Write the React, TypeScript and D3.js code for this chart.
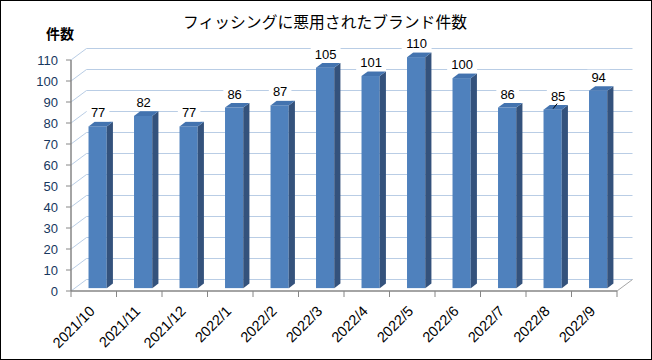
import React from 'react';
import * as d3 from 'd3';

const months = ['2021/10', '2021/11', '2021/12', '2022/1', '2022/2', '2022/3', '2022/4', '2022/5', '2022/6', '2022/7', '2022/8', '2022/9'];
const counts = [77, 82, 77, 86, 87, 105, 101, 110, 100, 86, 85, 94];
const yTicks = [0, 10, 20, 30, 40, 50, 60, 70, 80, 90, 100, 110];

const W = 652;
const H = 360;
const left = 71;
const right = 617;
const bottom = 291;
const top = 60;
// depth offsets of the back wall
const DX = 15.5;
const DY = -11.5;

const App: React.FC = () => {
    const x = d3.scaleBand<string>().domain(months).range([left, right]).paddingInner(0).paddingOuter(0);
    const y = d3.scaleLinear().domain([0, 110]).range([bottom, top]);

    const bw = x.bandwidth() * 0.4;
    const d0 = 0.25; // front of bar (fraction of depth)
    const d1 = 0.65; // back of bar

    return (
        <svg width={W} height={H} style={{ position: 'absolute', left: 0, top: 0, fontFamily: '"Liberation Sans", Arial, sans-serif' }}>
            <rect x={0.5} y={0.5} width={W - 1} height={H - 1} fill="#fff" stroke="#000" />
            <text x={325} y={28} textAnchor="middle" fontSize={15.8} fontFamily='"Noto Sans CJK JP", sans-serif' fill="#000">
                フィッシングに悪用されたブランド件数
            </text>
            <text x={60} y={39} textAnchor="middle" fontSize={14} fontWeight="bold" fontFamily='"Noto Sans CJK JP", sans-serif' fill="#000">
                件数
            </text>

            {/* back wall and side wall gridlines */}
            {yTicks.map(t => (
                <g key={t}>
                    <line x1={left + DX} x2={right + DX} y1={y(t) + DY} y2={y(t) + DY} stroke="#B9CDE5" strokeWidth={1} />
                    <line x1={left} x2={left + DX} y1={y(t)} y2={y(t) + DY} stroke="#B9CDE5" strokeWidth={1} />
                </g>
            ))}
            <line x1={right} x2={right + DX} y1={bottom} y2={bottom + DY} stroke="#A6A6A6" />

            {/* y axis */}
            <line x1={left} x2={left} y1={top} y2={bottom} stroke="#868686" strokeWidth={1.5} />
            {yTicks.map(t => (
                <g key={'yt' + t}>
                    <line x1={left - 5} x2={left} y1={y(t)} y2={y(t)} stroke="#868686" />
                    <text x={58} y={y(t) + 4.5} textAnchor="end" fontSize={13} fill="#17375E">{t}</text>
                </g>
            ))}

            {/* bars */}
            {months.map((m, i) => {
                const v = counts[i];
                const fx = (x(m) as number) + (x.bandwidth() - bw) / 2 + DX * d0;
                const fb = y(0) + DY * d0;
                const ft = y(v) + DY * d0;
                const ox = DX * (d1 - d0);
                const oy = DY * (d1 - d0);
                return (
                    <g key={m}>
                        <rect x={fx} y={ft} width={bw} height={fb - ft} fill="#4F81BD" />
                        <polygon points={`${fx + bw},${ft} ${fx + bw + ox},${ft + oy} ${fx + bw + ox},${fb + oy} ${fx + bw},${fb}`} fill="#34527C" />
                        <polygon points={`${fx},${ft} ${fx + ox},${ft + oy} ${fx + bw + ox},${ft + oy} ${fx + bw},${ft}`} fill="#4373AF" />
                    </g>
                );
            })}

            {/* x axis */}
            <line x1={left} x2={right} y1={bottom} y2={bottom} stroke="#868686" strokeWidth={1.5} />
            {[...months.map(m => x(m) as number), right].map((px, i) => (
                <line key={'xt' + i} x1={px} x2={px} y1={bottom} y2={bottom + 6} stroke="#868686" />
            ))}
            {months.map(m => {
                const cx = (x(m) as number) + x.bandwidth() / 2 + 2;
                const cy = bottom + 21;
                return (
                    <text key={'xl' + m} x={cx} y={cy} textAnchor="end" fontSize={14.5} fill="#000" transform={`rotate(-45, ${cx}, ${cy})`}>
                        {m}
                    </text>
                );
            })}

            {/* value labels */}
            {months.map((m, i) => {
                const v = counts[i];
                const shift = m === '2022/8' ? 5 : 0;
                const cx = (x(m) as number) + x.bandwidth() / 2 + DX * d0 + 0.5 + shift;
                const ty = y(v) + DY * d0 - 9;
                const tw = String(v).length * 7.3 + 8;
                return (
                    <g key={'vl' + m}>
                        <rect x={cx - tw / 2} y={ty - 12} width={tw} height={16} fill="#fff" />
                        <text x={cx} y={ty} textAnchor="middle" fontSize={13} fill="#000">{v}</text>
                        {shift > 0 && <line x1={cx - 5} y1={ty + 8} x2={cx - 1} y2={ty + 3} stroke="#000" />}
                    </g>
                );
            })}
        </svg>
    );
};

export default App;
